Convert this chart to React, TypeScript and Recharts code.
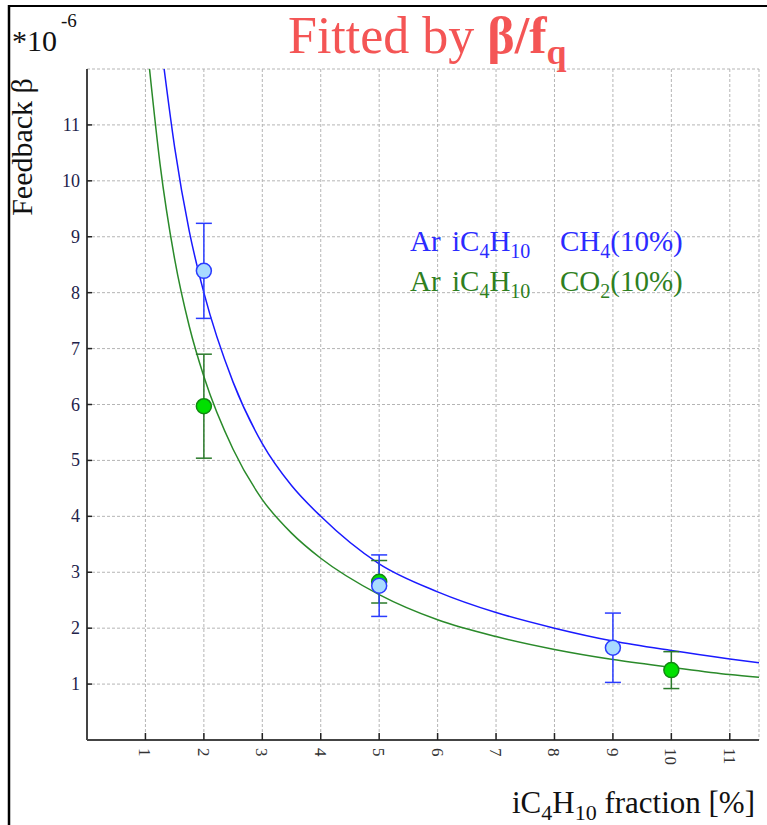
import React from 'react';
import { ComposedChart, XAxis, YAxis, CartesianGrid, Line, Scatter, ErrorBar } from 'recharts';

const xTicks = [1, 2, 3, 4, 5, 6, 7, 8, 9, 10, 11];
const yTicks = [1, 2, 3, 4, 5, 6, 7, 8, 9, 10, 11];

// fitted curves (x = iC4H10 fraction, y = beta *1e-6)
const blueFitX = [1.32, 1.5, 1.75, 2, 2.5, 3, 3.5, 4, 5, 6, 7, 8, 9, 10, 11, 11.5];
const blueFitY = [12, 10.6, 9.1, 8.0, 6.4, 5.3, 4.55, 4.0, 3.15, 2.65, 2.28, 2.0, 1.77, 1.6, 1.45, 1.38];
const greenFitX = [1.07, 1.25, 1.5, 1.75, 2, 2.5, 3, 3.5, 4, 5, 6, 7, 8, 9, 10, 11, 11.5];
const greenFitY = [12, 10.3, 8.6, 7.4, 6.5, 5.2, 4.3, 3.7, 3.25, 2.6, 2.15, 1.85, 1.62, 1.44, 1.3, 1.17, 1.12];

// measured points
const blueX = [2, 5, 9];
const blueY = [8.39, 2.76, 1.65];
const blueErr = [0.85, 0.55, 0.62];
const greenX = [2, 5, 10];
const greenY = [5.97, 2.83, 1.25];
const greenErr = [0.93, 0.38, 0.33];

const blueFit = blueFitX.map((x, i) => ({ x, y: blueFitY[i] }));
const greenFit = greenFitX.map((x, i) => ({ x, y: greenFitY[i] }));
const bluePts = blueX.map((x, i) => ({ x, y: blueY[i], err: blueErr[i] }));
const greenPts = greenX.map((x, i) => ({ x, y: greenY[i], err: greenErr[i] }));

const FONT = '"Liberation Serif", "DejaVu Serif", serif';
const AXIS = '#444';

const BottomTick = (props: any) => {
  const { x, y, payload } = props;
  return (
    <g>
      <line x1={x} x2={x} y1={y} y2={y - 7} stroke="#222" strokeWidth={1.5} />
      <text
        x={x - 6}
        y={y + 8}
        transform={`rotate(90 ${x - 6} ${y + 8})`}
        textAnchor="start"
        fontSize={17}
        fontFamily={FONT}
        fill="#333"
      >
        {payload.value}
      </text>
    </g>
  );
};

const TopTick = (props: any) => {
  const { x, y } = props;
  return <line x1={x} x2={x} y1={y} y2={y + 7} stroke="#222" strokeWidth={1.5} />;
};

const LeftTick = (props: any) => {
  const { x, y, payload } = props;
  return (
    <g>
      <line x1={x} x2={x + 5} y1={y} y2={y} stroke="#222" strokeWidth={1.5} />
      <text x={x - 7} y={y + 6} textAnchor="end" fontSize={18} fontFamily={FONT} fill="#22224a">
        {payload.value}
      </text>
    </g>
  );
};

const BlueDot = (p: any) => (
  <circle cx={p.cx} cy={p.cy} r={7.5} fill="#a9dbff" stroke="#2a3cff" strokeWidth={1.5} />
);
const GreenDot = (p: any) => (
  <circle cx={p.cx} cy={p.cy} r={7.5} fill="#00e000" stroke="#118811" strokeWidth={1.5} />
);

export default function App() {
  return (
    <div style={{ position: 'absolute', left: 0, top: 0, width: 767, height: 825, background: '#fff' }}>
      <ComposedChart
        width={767}
        height={825}
        margin={{ top: 69, right: 8, left: 0, bottom: 0 }}
        style={{ position: 'absolute', left: 0, top: 0 }}
      >
        <CartesianGrid stroke="#b5b5b5" strokeDasharray="3 2" />
        <XAxis
          dataKey="x"
          type="number"
          domain={[0, 11.5]}
          ticks={xTicks}
          allowDataOverflow
          height={85}
          tickSize={0}
          tickMargin={0}
          tickLine={false}
          axisLine={{ stroke: AXIS, strokeWidth: 2 }}
          tick={<BottomTick />}
          interval={0}
        />
        <XAxis
          xAxisId="top"
          orientation="top"
          dataKey="x"
          type="number"
          domain={[0, 11.5]}
          ticks={xTicks}
          allowDataOverflow
          height={0}
          tickSize={0}
          tickMargin={0}
          tickLine={false}
          axisLine={{ stroke: AXIS, strokeWidth: 2 }}
          tick={<TopTick />}
          interval={0}
        />
        <YAxis
          type="number"
          domain={[0, 12]}
          ticks={yTicks}
          allowDataOverflow
          width={87}
          tickSize={0}
          tickMargin={0}
          tickLine={false}
          axisLine={{ stroke: AXIS, strokeWidth: 2 }}
          tick={<LeftTick />}
          interval={0}
        />
        <YAxis
          yAxisId="r"
          orientation="right"
          type="number"
          domain={[0, 12]}
          width={0}
          tick={false}
          tickLine={false}
          axisLine={{ stroke: AXIS, strokeWidth: 2 }}
        />
        <Line
          data={greenFit}
          dataKey="y"
          type="monotone"
          stroke="#2a8a2a"
          strokeWidth={1.5}
          dot={false}
          isAnimationActive={false}
        />
        <Line
          data={blueFit}
          dataKey="y"
          type="monotone"
          stroke="#1a1aff"
          strokeWidth={1.5}
          dot={false}
          isAnimationActive={false}
        />
        <Scatter data={greenPts} dataKey="y" shape={GreenDot} isAnimationActive={false}>
          <ErrorBar dataKey="err" direction="y" width={8} stroke="#2a7a2a" strokeWidth={1.5} isAnimationActive={false} />
        </Scatter>
        <Scatter data={bluePts} dataKey="y" shape={BlueDot} isAnimationActive={false}>
          <ErrorBar dataKey="err" direction="y" width={8} stroke="#2a3cff" strokeWidth={1.5} isAnimationActive={false} />
        </Scatter>
      </ComposedChart>
      <svg
        width={767}
        height={825}
        style={{ position: 'absolute', left: 0, top: 0, pointerEvents: 'none' }}
      >
        <line x1={8} x2={767} y1={6} y2={6} stroke="#000" strokeWidth={2} />
        <line x1={9} x2={9} y1={5} y2={825} stroke="#000" strokeWidth={2.5} />
        <text x={288} y={53} fontSize={52} fontFamily={FONT} fill="#f45555">
          Fitted by <tspan fontWeight="bold">β/f</tspan>
          <tspan fontWeight="bold" fontSize={36} dy={11}>q</tspan>
        </text>
        <text x={12} y={51} fontSize={30} fontFamily={FONT} fill="#111">*10</text>
        <text x={61} y={27} fontSize={19} fontFamily={FONT} fill="#111">-6</text>
        <text
          x={32}
          y={147}
          transform="rotate(-90 32 147)"
          textAnchor="middle"
          fontSize={30}
          fontFamily={FONT}
          fill="#111"
        >
          Feedback β
        </text>
        <text x={755} y={813} textAnchor="end" fontSize={31} fontFamily={FONT} fill="#111">
          iC<tspan fontSize={22} dy={7}>4</tspan>
          <tspan dy={-7}>H</tspan>
          <tspan fontSize={22} dy={7}>10</tspan>
          <tspan dy={-7}> fraction [%]</tspan>
        </text>
        <text y={251} fontSize={29} fontFamily={FONT} fill="#2b2bff">
          <tspan x={410}>Ar</tspan>
          <tspan x={452}>iC</tspan>
          <tspan fontSize={20} dy={7}>4</tspan>
          <tspan dy={-7}>H</tspan>
          <tspan fontSize={20} dy={7}>10</tspan>
          <tspan x={560} dy={-7}>CH</tspan>
          <tspan fontSize={20} dy={7}>4</tspan>
          <tspan dy={-7}>(10%)</tspan>
        </text>
        <text y={291} fontSize={29} fontFamily={FONT} fill="#2f7f1f">
          <tspan x={410}>Ar</tspan>
          <tspan x={452}>iC</tspan>
          <tspan fontSize={20} dy={7}>4</tspan>
          <tspan dy={-7}>H</tspan>
          <tspan fontSize={20} dy={7}>10</tspan>
          <tspan x={560} dy={-7}>CO</tspan>
          <tspan fontSize={20} dy={7}>2</tspan>
          <tspan dy={-7}>(10%)</tspan>
        </text>
      </svg>
    </div>
  );
}
